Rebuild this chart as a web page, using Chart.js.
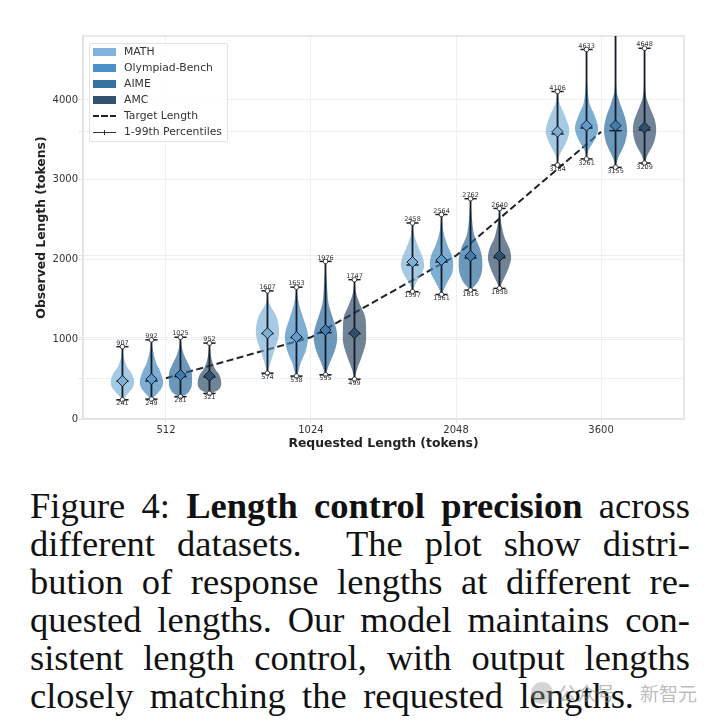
<!DOCTYPE html>
<html>
<head>
  <meta charset="UTF-8">
  <title>Figure 4: Length control precision</title>
  <script src="https://cdn.jsdelivr.net/npm/chart.js"></script>
  <style>
    html, body { margin: 0; background: #fff; }
    #wrap { position: relative; width: 720px; height: 724px; overflow: hidden; }
    canvas { position: absolute; left: 0; top: 0; }
    #legend {
      position: absolute; left: 89px; top: 43px; width: 137px; height: 97px;
      background: rgba(255,255,255,.85); border: 1px solid #e2e2e2; border-radius: 2px;
      font: 10.8px "DejaVu Sans", sans-serif; color: #333;
    }
    #legend .row { position: absolute; left: 0; height: 16px; line-height: 16px; white-space: nowrap; }
    #legend .row span { position: absolute; left: 34px; }
    #legend .swatch { position: absolute; left: 3px; top: 4px; width: 23px; height: 8px; }
    #legend .dash { position: absolute; left: 3px; top: 7px; width: 23px; height: 2px;
      background: repeating-linear-gradient(90deg, #222 0 6px, transparent 6px 8.5px); }
    #legend .solid { position: absolute; left: 3px; top: 7.5px; width: 23px; height: 1.3px; background: #333; }
    #legend .tick { position: absolute; left: 14px; top: 5.5px; width: 1px; height: 5px; background: #333; }
    #caption {
      position: absolute; left: 30px; top: 487px; width: 660px;
      font: 36.5px/38px "Liberation Serif", serif; color: #111;
    }
    #caption div { white-space: nowrap; text-align: justify; text-align-last: justify; }
    .mark { position: absolute; top: 679px; font: 19px "Noto Sans CJK SC", sans-serif; color: rgba(150,150,150,.65); white-space: pre; }
    #dot { position: absolute; left: 531px; top: 682px; width: 22px; height: 22px; border-radius: 50%; background: rgba(150,150,150,.4); }
  </style>
</head>
<body>
<div id="wrap">
  <canvas id="chart" width="720" height="470"></canvas>
  <div id="legend"></div>
  <div id="caption">
    <div>Figure 4: <b>Length control precision</b> across</div>
    <div>different datasets. &nbsp;The plot show distri-</div>
    <div>bution of response lengths at different re-</div>
    <div>quested lengths. Our model maintains con-</div>
    <div>sistent length control, with output lengths</div>
    <div style="width:604px">closely matching the requested lengths.</div>
  </div>
  <div id="dot"></div>
  <div class="mark" style="left:558px">公众号</div>
  <div class="mark" style="left:640px">新智元</div>
</div>

<script>
  const requested = ['512', '1024', '2048', '3600'];
  const targetLengths = [512, 1024, 2048, 3600];
  const yLabels = [0, 1000, 2000, 3000, 4000];
  const seriesNames = ['MATH', 'Olympiad-Bench', 'AIME', 'AMC'];

  // 1st and 99th percentiles per requested length
  const mathLow = [241, 574, 1597, 3184];
  const mathHigh = [907, 1607, 2458, 4106];
  const olympLow = [249, 538, 1561, 3261];
  const olympHigh = [992, 1653, 2564, 4633];
  const aimeLow = [281, 555, 1616, 3155];
  const aimeHigh = [1025, 1976, 2762, 5200];
  const amcLow = [321, 499, 1638, 3209];
  const amcHigh = [952, 1747, 2640, 4648];

  const mathMean = [476, 1076, 1968, 3603];
  const mathMedian = [473, 1070, 1931, 3574];
  const olympMean = [500, 1028, 1994, 3678];
  const olympMedian = [476, 1020, 1968, 3649];
  const aimeMean = [552, 1116, 2044, 3678];
  const aimeMedian = [531, 1082, 2019, 3615];
  const amcMean = [540, 1076, 2044, 3653];
  const amcMedian = [525, 1070, 2023, 3624];

  // violin outlines: [length, relative density]
  const mathShape = [
    [[907,0],[782,.1],[656,.4],[573,.78],[480,1],[400,.92],[330,.55],[265,.12],[241,0]],
    [[1607,0],[1450,.15],[1283,.78],[1116,1],[991,.9],[865,.6],[698,.25],[574,0]],
    [[2458,0],[2307,.15],[2140,.55],[2015,.9],[1910,1],[1805,.72],[1700,.28],[1597,0]],
    [[4106,0],[3960,.18],[3790,.68],[3664,.97],[3582,1],[3457,.72],[3310,.18],[3184,0]]
  ];
  const olympShape = [
    [[992,0],[850,.15],[700,.42],[600,.75],[480,1],[400,.92],[330,.58],[270,.16],[249,0]],
    [[1653,0],[1450,.2],[1283,.55],[1116,.92],[1012,1],[865,.82],[698,.36],[572,.12],[538,0]],
    [[2564,0],[2351,.16],[2182,.5],[2056,.88],[1952,1],[1826,.92],[1700,.45],[1561,0]],
    [[4633,0],[4250,.04],[3960,.25],[3832,.62],[3645,1],[3498,.68],[3373,.18],[3261,0]]
  ];
  const aimeShape = [
    [[1025,0],[900,.12],[800,.32],[700,.65],[600,.95],[500,1],[400,.95],[340,.72],[300,.38],[281,0]],
    [[1976,0],[1700,.12],[1450,.26],[1283,.6],[1116,.95],[991,1],[865,.82],[698,.36],[555,0]],
    [[2762,0],[2516,.12],[2307,.32],[2140,.8],[2015,1],[1848,.98],[1722,.65],[1616,0]],
    [[5200,0],[4600,.02],[4125,.08],[3960,.38],[3790,.8],[3624,1],[3457,.8],[3272,.22],[3155,0]]
  ];
  const amcShape = [
    [[952,0],[800,.12],[700,.28],[620,.52],[560,.82],[480,1],[410,.98],[360,.72],[321,0]],
    [[1747,0],[1577,.14],[1410,.55],[1283,.92],[1116,1],[949,.97],[782,.62],[615,.2],[499,0]],
    [[2640,0],[2458,.14],[2266,.45],[2140,.85],[2015,1],[1890,.78],[1742,.32],[1638,0]],
    [[4648,0],[4300,.03],[4040,.14],[3873,.55],[3730,.92],[3603,1],[3457,.78],[3310,.26],[3209,0]]
  ];

  const series = [
    { low: mathLow, high: mathHigh, mean: mathMean, median: mathMedian, shape: mathShape,
      fill: 'rgba(107,166,209,.6)', patch: '#7fb3da', diamond: '#7fb0d4' },
    { low: olympLow, high: olympHigh, mean: olympMean, median: olympMedian, shape: olympShape,
      fill: 'rgba(66,135,190,.68)', patch: '#4b90c6', diamond: '#5f9ccb' },
    { low: aimeLow, high: aimeHigh, mean: aimeMean, median: aimeMedian, shape: aimeShape,
      fill: 'rgba(37,103,155,.68)', patch: '#34729f', diamond: '#3f7bac' },
    { low: amcLow, high: amcHigh, mean: amcMean, median: amcMedian, shape: amcShape,
      fill: 'rgba(35,65,95,.65)', patch: '#33526f', diamond: '#2f4f6c' }
  ];

  const offsets = [-0.3, -0.1, 0.1, 0.3];
  const halfWidth = 0.08;
  const capWidth = 0.042;
  const lineColor = '#131c28';

  const datasets = [];
  datasets.push({
    data: targetLengths.map((v, i) => ({ x: i, y: v })),
    showLine: true, borderColor: '#222', borderWidth: 2, borderDash: [7, 3.5],
    pointRadius: 0, order: 6, tension: 0
  });

  function segment(x0, x1, y0, y1, width, order) {
    return {
      data: [{ x: x0, y: y0 }, { x: x1, y: y1 }],
      showLine: true, borderColor: lineColor, borderWidth: width,
      pointRadius: 0, order: order, tension: 0
    };
  }

  series.forEach((s, k) => {
    requested.forEach((_, g) => {
      const cx = g + offsets[k];
      const right = s.shape[g].map(p => ({ x: cx + p[1] * halfWidth, y: p[0] }));
      const left = s.shape[g].slice().reverse().map(p => ({ x: cx - p[1] * halfWidth, y: p[0] }));
      datasets.push({
        data: right.concat(left), showLine: true, fill: 'shape',
        backgroundColor: s.fill, borderWidth: 0, borderColor: 'transparent',
        pointRadius: 0, tension: 0.3, order: 5
      });
      datasets.push(segment(cx, cx, s.low[g], s.high[g], 1.8, 3));
      datasets.push(segment(cx - capWidth, cx + capWidth, s.low[g], s.low[g], 1.5, 3));
      datasets.push(segment(cx - capWidth, cx + capWidth, s.high[g], s.high[g], 1.5, 3));
      datasets.push(segment(cx - capWidth, cx + capWidth, s.median[g], s.median[g], 1.5, 2));
      datasets.push({
        data: [{ x: cx, y: s.mean[g] }], pointStyle: 'rectRot', pointRadius: 5.5,
        backgroundColor: s.diamond, borderColor: lineColor, borderWidth: 1, order: 1
      });
      datasets.push({
        data: [{ x: cx, y: s.low[g] }, { x: cx, y: s.high[g] }], pointStyle: 'circle', pointRadius: 2.3,
        backgroundColor: '#fff', borderColor: '#222', borderWidth: 0.8, order: 1
      });
    });
  });

  // frame on all four sides, under the marks
  const frame = {
    id: 'frame',
    beforeDatasetsDraw(chart) {
      const { ctx, chartArea: a } = chart;
      ctx.save();
      ctx.strokeStyle = '#e2e2e2';
      ctx.lineWidth = 1.5;
      ctx.strokeRect(a.left, a.top, a.right - a.left, a.bottom - a.top);
      ctx.restore();
    }
  };

  // small value labels above and below each violin
  const valueLabels = {
    id: 'valueLabels',
    afterDatasetsDraw(chart) {
      const { ctx, scales: { x, y }, chartArea } = chart;
      ctx.save();
      ctx.font = '6.5px "DejaVu Sans"';
      ctx.fillStyle = '#333';
      ctx.textAlign = 'center';
      ctx.textBaseline = 'middle';
      series.forEach((s, k) => {
        requested.forEach((_, g) => {
          const px = x.getPixelForValue(g + offsets[k]);
          const top = y.getPixelForValue(s.high[g]);
          if (top > chartArea.top) ctx.fillText(s.high[g], px, top - 3.5);
          ctx.fillText(s.low[g], px, y.getPixelForValue(s.low[g]) + 4);
        });
      });
      ctx.restore();
    }
  };

  const tickFont = { family: 'DejaVu Sans', size: 10 };
  const titleFont = { family: 'DejaVu Sans', size: 12.4, weight: 'bold' };

  new Chart(document.getElementById('chart'), {
    type: 'scatter',
    data: { datasets: datasets },
    plugins: [frame, valueLabels],
    options: {
      responsive: false,
      animation: false,
      layout: { padding: { top: 36, right: 36, left: 0, bottom: 0 } },
      plugins: { legend: { display: false }, tooltip: { enabled: false } },
      scales: {
        x: {
          type: 'linear', min: -0.572, max: 3.572,
          afterBuildTicks(scale) { scale.ticks = requested.map((_, i) => ({ value: i })); },
          afterFit(scale) { scale.height = 51; },
          ticks: { autoSkip: false, maxRotation: 0, font: tickFont, color: '#333', padding: 1,
                   callback: v => requested[v] },
          grid: { color: '#f0f0f0', tickColor: '#e2e2e2', tickLength: 4 },
          border: { color: '#e2e2e2', width: 1.5 },
          title: { display: true, text: 'Requested Length (tokens)', font: titleFont, color: '#222',
                   padding: { top: 0, bottom: 18.5 } }
        },
        y: {
          min: 0, max: 4802,
          afterBuildTicks(scale) {
            scale.ticks = yLabels.concat(targetLengths).sort((a, b) => a - b).map(v => ({ value: v }));
          },
          afterFit(scale) { scale.width = 83; },
          ticks: { autoSkip: false, font: tickFont, color: '#333', padding: 1,
                   callback: v => yLabels.includes(v) ? v : '' },
          grid: { color: '#f0f0f0', tickColor: '#e2e2e2', tickLength: 4 },
          border: { color: '#e2e2e2', width: 1.5 },
          title: { display: true, text: 'Observed Length (tokens)', font: titleFont, color: '#222',
                   padding: { top: 34, bottom: 0 } }
        }
      }
    }
  });

  // legend box inside the plot
  const legend = document.getElementById('legend');
  const rows = seriesNames.map((n, i) => `<div class="swatch" style="background:${series[i].patch}"></div><span>${n}</span>`);
  rows.push('<div class="dash"></div><span>Target Length</span>');
  rows.push('<div class="solid"></div><div class="tick"></div><span>1-99th Percentiles</span>');
  legend.innerHTML = rows.map((r, i) => `<div class="row" style="top:${i * 16}px">${r}</div>`).join('');
</script>
</body>
</html>
